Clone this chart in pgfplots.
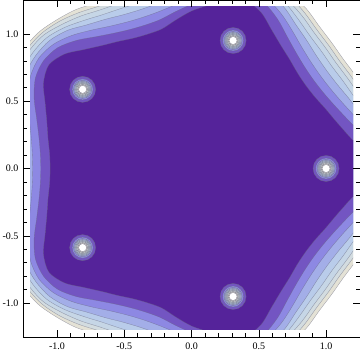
\documentclass[border=0pt]{standalone}
\usepackage{fontspec}
\setmainfont{Liberation Serif}
\usepackage{pgfplots}
\usepackage{pgfplotstable}
\pgfplotsset{compat=1.18}
\definecolor{c0}{HTML}{55239A}
\definecolor{c1}{HTML}{7355C2}
\definecolor{c2}{HTML}{8D88E3}
\definecolor{c3}{HTML}{A3AEE8}
\definecolor{c4}{HTML}{B9CCEA}
\definecolor{c5}{HTML}{C6D6E6}
\definecolor{c6}{HTML}{D3DCE0}
\definecolor{c7}{HTML}{E4E2D6}
\definecolor{lc}{HTML}{6A6A80}
\pgfplotstableread{
t L1 L2 L3 L4 L5 L6 L7 L8
0 1.31 1.36 1.40 1.43 1.46 1.49 1.51 1.53
6 1.27 1.34 1.38 1.42 1.45 1.48 1.50 1.52
12 1.19 1.28 1.33 1.38 1.41 1.44 1.47 1.49
18 1.13 1.21 1.27 1.32 1.36 1.40 1.43 1.46
24 1.09 1.16 1.22 1.28 1.32 1.36 1.39 1.42
30 1.06 1.13 1.19 1.25 1.30 1.34 1.37 1.40
36 1.05 1.12 1.18 1.24 1.29 1.33 1.36 1.39
42 1.06 1.13 1.19 1.25 1.30 1.34 1.37 1.40
48 1.09 1.16 1.22 1.28 1.32 1.36 1.39 1.42
54 1.13 1.21 1.27 1.32 1.36 1.40 1.43 1.46
60 1.19 1.28 1.33 1.38 1.41 1.44 1.47 1.49
66 1.27 1.34 1.38 1.42 1.45 1.48 1.50 1.52
72 1.31 1.36 1.40 1.43 1.46 1.49 1.51 1.53
78 1.28 1.34 1.38 1.42 1.45 1.48 1.50 1.52
84 1.22 1.28 1.33 1.38 1.41 1.44 1.47 1.49
90 1.17 1.22 1.27 1.32 1.36 1.40 1.43 1.46
96 1.11 1.17 1.22 1.28 1.32 1.36 1.39 1.42
102 1.06 1.13 1.19 1.25 1.30 1.34 1.37 1.40
108 1.05 1.12 1.18 1.24 1.29 1.33 1.36 1.39
114 1.06 1.13 1.19 1.25 1.30 1.34 1.37 1.40
120 1.09 1.16 1.22 1.28 1.32 1.36 1.39 1.42
126 1.13 1.21 1.27 1.32 1.36 1.40 1.43 1.46
132 1.19 1.28 1.33 1.38 1.41 1.44 1.47 1.49
138 1.27 1.34 1.38 1.42 1.45 1.48 1.50 1.52
144 1.31 1.36 1.40 1.43 1.46 1.49 1.51 1.53
150 1.27 1.34 1.38 1.42 1.45 1.48 1.50 1.52
156 1.19 1.28 1.33 1.38 1.41 1.44 1.47 1.49
162 1.13 1.21 1.27 1.32 1.36 1.40 1.43 1.46
168 1.09 1.16 1.22 1.28 1.32 1.36 1.39 1.42
174 1.06 1.13 1.19 1.25 1.30 1.34 1.37 1.40
180 1.05 1.12 1.18 1.24 1.29 1.33 1.36 1.39
186 1.06 1.13 1.19 1.25 1.30 1.34 1.37 1.40
192 1.09 1.16 1.22 1.28 1.32 1.36 1.39 1.42
198 1.13 1.21 1.27 1.32 1.36 1.40 1.43 1.46
204 1.19 1.28 1.33 1.38 1.41 1.44 1.47 1.49
210 1.27 1.34 1.38 1.42 1.45 1.48 1.50 1.52
216 1.31 1.36 1.40 1.43 1.46 1.49 1.51 1.53
222 1.27 1.34 1.38 1.42 1.45 1.48 1.50 1.52
228 1.19 1.28 1.33 1.38 1.41 1.44 1.47 1.49
234 1.13 1.21 1.27 1.32 1.36 1.40 1.43 1.46
240 1.09 1.16 1.22 1.28 1.32 1.36 1.39 1.42
246 1.06 1.13 1.19 1.25 1.30 1.34 1.37 1.40
252 1.05 1.12 1.18 1.24 1.29 1.33 1.36 1.39
258 1.06 1.13 1.19 1.25 1.30 1.34 1.37 1.40
264 1.11 1.17 1.22 1.28 1.32 1.36 1.39 1.42
270 1.17 1.22 1.27 1.32 1.36 1.40 1.43 1.46
276 1.22 1.28 1.33 1.38 1.41 1.44 1.47 1.49
282 1.28 1.34 1.38 1.42 1.45 1.48 1.50 1.52
288 1.31 1.36 1.40 1.43 1.46 1.49 1.51 1.53
294 1.27 1.34 1.38 1.42 1.45 1.48 1.50 1.52
300 1.19 1.28 1.33 1.38 1.41 1.44 1.47 1.49
306 1.13 1.21 1.27 1.32 1.36 1.40 1.43 1.46
312 1.09 1.16 1.22 1.28 1.32 1.36 1.39 1.42
318 1.06 1.13 1.19 1.25 1.30 1.34 1.37 1.40
324 1.05 1.12 1.18 1.24 1.29 1.33 1.36 1.39
330 1.06 1.13 1.19 1.25 1.30 1.34 1.37 1.40
336 1.09 1.16 1.22 1.28 1.32 1.36 1.39 1.42
342 1.13 1.21 1.27 1.32 1.36 1.40 1.43 1.46
348 1.19 1.28 1.33 1.38 1.41 1.44 1.47 1.49
354 1.27 1.34 1.38 1.42 1.45 1.48 1.50 1.52
360 1.31 1.36 1.40 1.43 1.46 1.49 1.51 1.53
}\contours
\pgfplotstableread{
x y
1.000 0.000
0.309 0.951
-0.809 0.588
-0.809 -0.588
0.309 -0.951
}\roots
\begin{document}
\begin{tikzpicture}
\begin{axis}[at={(0,0)}, anchor=origin, x=134.5pt, y=134.5pt,
  xmin=-1.2, xmax=1.2, ymin=-1.2, ymax=1.2, hide axis,
  every axis plot/.append style={line width=0.35pt}]
\addplot[data cs=polar, smooth, fill=c7, draw=lc, draw opacity=0.6] table[x=t,y=L8]{\contours};
\addplot[data cs=polar, smooth, fill=c6, draw=lc, draw opacity=0.6] table[x=t,y=L7]{\contours};
\addplot[data cs=polar, smooth, fill=c5, draw=lc, draw opacity=0.6] table[x=t,y=L6]{\contours};
\addplot[data cs=polar, smooth, fill=c4, draw=lc, draw opacity=0.6] table[x=t,y=L5]{\contours};
\addplot[data cs=polar, smooth, fill=c3, draw=lc, draw opacity=0.6] table[x=t,y=L4]{\contours};
\addplot[data cs=polar, smooth, fill=c2, draw=lc, draw opacity=0.6] table[x=t,y=L3]{\contours};
\addplot[data cs=polar, smooth, fill=c1, draw=lc, draw opacity=0.6] table[x=t,y=L2]{\contours};
\addplot[data cs=polar, smooth, fill=c0, draw=lc, draw opacity=0.6] table[x=t,y=L1]{\contours};
\addplot[only marks, mark=*, mark size=13pt, mark options={fill=c1, draw=lc, draw opacity=0.8}] table{\roots};
\addplot[only marks, mark=*, mark size=10.5pt, mark options={fill=c2, draw=lc, draw opacity=0.8}] table{\roots};
\addplot[only marks, mark=*, mark size=9pt, mark options={fill=c3!85!gray, draw=lc, draw opacity=0.8}] table{\roots};
\addplot[only marks, mark=*, mark size=8pt, mark options={fill=c4!80!gray, draw=lc, draw opacity=0.8}] table{\roots};
\addplot[only marks, mark=*, mark size=7pt, mark options={fill=c5!75!gray, draw=lc, draw opacity=0.8}] table{\roots};
\addplot[only marks, mark=*, mark size=6pt, mark options={fill=c6!75!gray, draw=lc, draw opacity=0.8}] table{\roots};
\addplot[only marks, mark=*, mark size=5pt, mark options={fill=c7!80!gray, draw=lc, draw opacity=0.8}] table{\roots};
\addplot[only marks, mark=*, mark size=4pt, mark options={fill=white, draw=lc, draw opacity=0.8}] table{\roots};
\end{axis}
\begin{axis}[name=ax, at={(0,0)}, anchor=origin, x=134.5pt, y=134.5pt,
  xmin=-1.252, xmax=1.252, ymin=-1.252, ymax=1.252,
  axis line style={black, line width=0.6pt},
  xtick={-1,-0.5,0,0.5,1}, xticklabels={-1.0,-0.5,0.0,0.5,1.0},
  ytick={-1,-0.5,0,0.5,1}, yticklabels={-1.0,-0.5,0.0,0.5,1.0},
  minor tick num=4, tick align=inside, tick pos=both,
  xticklabel pos=lower, yticklabel pos=left,
  major tick length=7pt, minor tick length=4pt,
  tick style={black, line width=0.5pt},
  tick label style={font=\fontsize{10}{12}\selectfont},
  xticklabel style={yshift=-2pt}, yticklabel style={xshift=-1pt}]
\addplot[draw=none] coordinates {(0,0)};
\end{axis}
\pgfresetboundingbox
\path[use as bounding box] ([xshift=-23pt,yshift=-16pt]ax.south west) rectangle (ax.north east);
\end{tikzpicture}
\end{document}
